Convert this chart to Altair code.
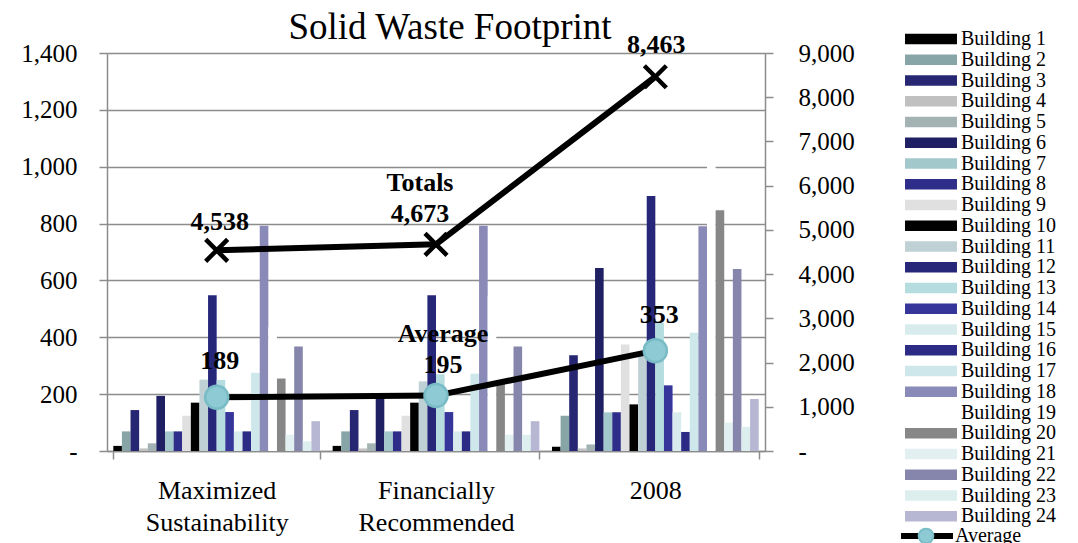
import altair as alt
import pandas as pd

# ---------------- data ----------------
groups = ["Maximized Sustainability", "Financially Recommended", "2008"]
buildings = [
    "Building 1", "Building 2", "Building 3", "Building 4", "Building 5", "Building 6",
    "Building 7", "Building 8", "Building 9", "Building 10", "Building 11", "Building 12",
    "Building 13", "Building 14", "Building 15", "Building 16", "Building 17", "Building 18",
    "Building 19", "Building 20", "Building 21", "Building 22", "Building 23", "Building 24",
]
maximized = [18, 69, 144, 9, 27, 194, 69, 69, 124, 170, 251, 548, 250, 137, 69, 69, 275, 792, 435, 255, 57, 368, 34, 105]
financially = [18, 69, 144, 9, 27, 190, 69, 69, 124, 170, 245, 548, 270, 137, 69, 69, 272, 792, 545, 250, 57, 368, 57, 105]
year2008 = [15, 124, 337, 9, 23, 644, 136, 136, 375, 164, 350, 897, 450, 231, 136, 67, 416, 791, 1190, 847, 100, 640, 85, 183]
totals = [4538, 4673, 8463]
averages = [189, 195, 353]
bar_colors = [
    "#000000", "#87a5a7", "#262673", "#c0c0c0", "#a3b3b3", "#1f1f63",
    "#a3c8cb", "#2e2e8a", "#e0e0e0", "#000000", "#bfd1d4", "#27277a",
    "#b5dde0", "#35359a", "#d8ecee", "#2b2b86", "#cde7ea", "#8a8ab8",
    "#ffffff", "#878787", "#e2f0f1", "#8686ac", "#ddeeee", "#b7b7d3",
]
avg_fill = "#8ecad3"
avg_edge = "#79bcc6"

rows = []
for g, vals in zip(groups, [maximized, financially, year2008]):
    for b, v in zip(buildings, vals):
        rows.append({"group": g, "building": b, "value": v})
bar_df = pd.DataFrame(rows)

line_df = pd.DataFrame({"group": groups, "avg": averages, "total": totals, "idx": [0, 1, 2]})
line_df["series"] = "Average"
line_df["marker"] = "avg-marker"
line_df["avg_label"] = [f"{v:,}" for v in averages]
line_df["total_label"] = [f"{v:,}" for v in totals]
line_df.loc[1, "avg_label"] = "Average\n" + line_df.loc[1, "avg_label"]
line_df.loc[1, "total_label"] = "Totals\n" + line_df.loc[1, "total_label"]

# ---------------- style ----------------
FONT = "Liberation Serif"
GREY = "#8c8c8c"
W, H = 658, 398

x_enc = alt.X(
    "group:N", sort=groups,
    scale=alt.Scale(paddingInner=0.0575, paddingOuter=0.02875),
    axis=alt.Axis(title=None, labelAngle=0, labelExpr="split(datum.label, ' ')",
                  tickBand="extent", tickSize=8, tickColor=GREY, tickWidth=1.5,
                  domainColor=GREY, domainWidth=1.5, labelFont=FONT, labelFontSize=26,
                  labelColor="black", labelPadding=18, labelLineHeight=32, grid=False),
)

left_axis = alt.Axis(
    title=None, values=[0, 200, 400, 600, 800, 1000, 1200, 1400],
    labelExpr="datum.value == 0 ? '-' : format(datum.value, ',')",
    labelFont=FONT, labelFontSize=25, labelColor="black", labelPadding=22,
    tickSize=8, tickColor=GREY, tickWidth=1.5, domainColor=GREY, domainWidth=1.5,
    grid=True, gridColor=GREY, gridWidth=1.5,
)
right_axis = alt.Axis(
    title=None, orient="right", values=[0, 1000, 2000, 3000, 4000, 5000, 6000, 7000, 8000, 9000],
    labelExpr="datum.value == 0 ? '-' : format(datum.value, ',')",
    labelFont=FONT, labelFontSize=25, labelColor="black", labelPadding=25,
    tickSize=8, tickColor=GREY, tickWidth=1.5, domainColor=GREY, domainWidth=1.5,
    grid=False,
)
y_left = alt.Scale(domain=[0, 1400], nice=False)
y_right = alt.Scale(domain=[0, 9000], nice=False)

# ---------------- bars ----------------
bars = alt.Chart(bar_df).mark_bar().encode(
    x=x_enc,
    xOffset=alt.XOffset("building:N", sort=buildings, scale=alt.Scale(paddingInner=0, paddingOuter=0)),
    y=alt.Y("value:Q", scale=y_left, axis=left_axis),
    color=alt.Color(
        "building:N",
        scale=alt.Scale(domain=buildings, range=bar_colors),
        legend=alt.Legend(
            title=None, orient="none", legendX=814, legendY=-24, direction="vertical", columns=1,
            symbolType="M-5,-1H5V1H-5Z", symbolSize=108, symbolStrokeWidth=0, symbolOpacity=1,
            labelFont=FONT, labelFontSize=20, labelColor="black", labelOffset=20, labelLimit=300,
            rowPadding=0.75, padding=0, symbolLimit=30,
        ),
    ),
)

# ---------------- average series (left axis) ----------------
avg_line = alt.Chart(line_df).mark_line(strokeWidth=6).encode(
    x=alt.X("group:N", sort=groups),
    y=alt.Y("avg:Q", scale=y_left),
    stroke=alt.Stroke(
        "series:N", scale=alt.Scale(domain=["Average"], range=["#000000"]),
        legend=alt.Legend(
            title=None, orient="none", legendX=810, legendY=473, symbolType="M-5,0H5",
            symbolSize=108, symbolStrokeWidth=6, symbolFillColor="transparent",
            labelFont=FONT, labelFontSize=20, labelColor="black", labelOffset=18, padding=0,
        ),
    ),
)
avg_pts = alt.Chart(line_df).mark_point(
    filled=True, shape="circle", size=530, stroke=avg_edge, strokeWidth=2.5, opacity=1
).encode(
    x=alt.X("group:N", sort=groups),
    y=alt.Y("avg:Q", scale=y_left),
    fill=alt.Fill(
        "marker:N", scale=alt.Scale(domain=["avg-marker"], range=[avg_fill]),
        legend=alt.Legend(
            title=None, orient="none", legendX=809, legendY=473, symbolType="circle",
            symbolSize=216, symbolStrokeColor=avg_edge, symbolStrokeWidth=2,
            labelExpr="''", labelFont=FONT, labelFontSize=20, padding=0, zindex=5,
        ),
    ),
)

avg_dx = [3, 7, 4]
avg_dy = [-23, -49, -23]
avg_labels = [
    alt.Chart(line_df).transform_filter(alt.datum.idx == i).mark_text(
        font=FONT, fontSize=26, fontWeight="bold", baseline="bottom", align="center",
        lineBreak="\n", lineHeight=31, dx=avg_dx[i], dy=avg_dy[i], color="black",
    ).encode(x=alt.X("group:N", sort=groups), y=alt.Y("avg:Q", scale=y_left), text="avg_label:N")
    for i in range(3)
]

left_layer = alt.layer(bars, avg_line, avg_pts, *avg_labels)

# ---------------- totals (right axis) ----------------
tot_line = alt.Chart(line_df).mark_line(strokeWidth=6, color="black").encode(
    x=alt.X("group:N", sort=groups),
    y=alt.Y("total:Q", scale=y_right, axis=right_axis),
)
tot_pts = alt.Chart(line_df).mark_point(
    shape="M-1,-1L1,1M1,-1L-1,1", size=484, filled=False, stroke="black", strokeWidth=4.5, opacity=1
).encode(
    x=alt.X("group:N", sort=groups),
    y=alt.Y("total:Q", scale=y_right),
)
tot_dx = [3, -16, 1]
tot_dy = [-15, -48, -19]
tot_labels = [
    alt.Chart(line_df).transform_filter(alt.datum.idx == i).mark_text(
        font=FONT, fontSize=26, fontWeight="bold", baseline="bottom", align="center",
        lineBreak="\n", lineHeight=31, dx=tot_dx[i], dy=tot_dy[i], color="black",
    ).encode(x=alt.X("group:N", sort=groups), y=alt.Y("total:Q", scale=y_right), text="total_label:N")
    for i in range(3)
]
right_layer = alt.layer(tot_line, tot_pts, *tot_labels)

chart = alt.layer(left_layer, right_layer).resolve_scale(y="independent").properties(
    width=W, height=H,
    autosize=alt.AutoSizeParams(type="none"),
    padding={"left": 99, "top": 45, "right": 305, "bottom": 92},
    title=alt.TitleParams("Solid Waste Footprint", font=FONT, fontSize=37, fontWeight="normal",
                          color="black", anchor="middle", dx=14, dy=28, offset=10),
).configure_view(stroke=None).configure(background="white")

chart.save("out.html", embed_options={"renderer": "svg", "actions": False})
